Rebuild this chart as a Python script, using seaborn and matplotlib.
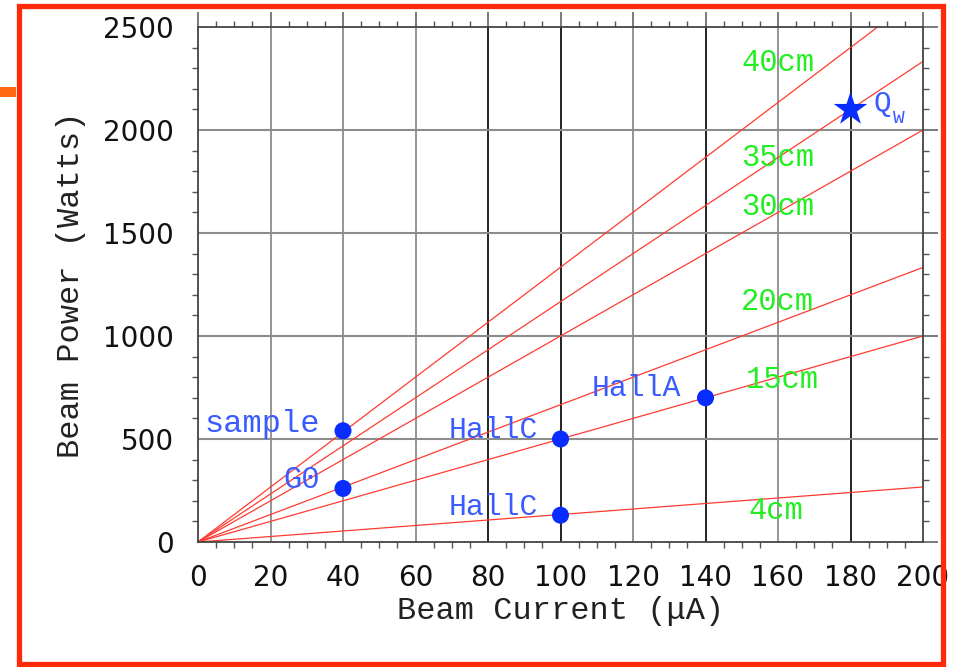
import numpy as np
import pandas as pd
import matplotlib
matplotlib.use("Agg")
import matplotlib.pyplot as plt
import seaborn as sns
from matplotlib.patches import Rectangle
from matplotlib.ticker import MultipleLocator

# ---- data ----
target_lengths = ["40cm", "35cm", "30cm", "20cm", "15cm", "4cm"]
power_at_200uA = [2667, 2333, 2000, 1333, 1000, 267]   # W at 200 uA (lines start at origin)
current_range = [0, 200]

exp_names = ["sample", "G0", "HallC", "HallC", "HallA"]
exp_current = [40, 40, 100, 100, 140]
exp_power = [540, 260, 500, 130, 700]

qw_current = [180]
qw_power = [2100]

x_ticks = [0, 20, 40, 60, 80, 100, 120, 140, 160, 180, 200]
y_ticks = [0, 500, 1000, 1500, 2000, 2500]

# ---- build table ----
rows = []
for name, p in zip(target_lengths, power_at_200uA):
    rows.append({"target": name, "current": current_range[0], "power": 0})
    rows.append({"target": name, "current": current_range[1], "power": p})
lines_df = pd.DataFrame(rows)
pts_df = pd.DataFrame({"name": exp_names, "current": exp_current, "power": exp_power})
qw_df = pd.DataFrame({"current": qw_current, "power": qw_power})

sns.set_style("white")
plt.rcParams["font.family"] = ["DejaVu Sans"]

W, H = 956, 667
fig = plt.figure(figsize=(W / 100, H / 100), dpi=100)
ax = fig.add_axes([198 / W, 1 - 542 / H, (923 - 198) / W, (542 - 27) / H])

# grid lines
grid_cols = {20: "#8c8c8c", 40: "#8c8c8c", 60: "#8c8c8c", 80: "#111111", 100: "#111111",
             120: "#8c8c8c", 140: "#111111", 160: "#8c8c8c", 180: "#111111"}
for xv, c in grid_cols.items():
    ax.axvline(xv, color=c, lw=1.3, zorder=0.5)
for yv in y_ticks[1:-1]:
    ax.axhline(yv, color="#8c8c8c", lw=1.5, zorder=0.5)

palette = {t: "#ff3b30" for t in target_lengths}
sns.lineplot(data=lines_df, x="current", y="power", hue="target", palette=palette,
             lw=0.9, legend=False, ax=ax, zorder=2)
sns.scatterplot(data=pts_df, x="current", y="power", color="#0a2dff", s=150,
                edgecolor="none", ax=ax, zorder=3)
sns.scatterplot(data=qw_df, x="current", y="power", color="#0a2dff", marker="*", s=650,
                edgecolor="none", ax=ax, zorder=3)

ax.set_xlim(0, 200)
ax.set_ylim(0, 2500)
ax.set_xticks(x_ticks)
ax.set_yticks(y_ticks)
ax.xaxis.set_minor_locator(MultipleLocator(5))
ax.yaxis.set_minor_locator(MultipleLocator(100))
ax.tick_params(which="major", direction="out", length=10.5, width=1.1, color="#555555",
               top=True, right=True, labelsize=20, labelcolor="#111111", pad=5)
ax.tick_params(which="minor", direction="out", length=4, width=1.0, color="#555555",
               top=True, right=True, bottom=True, left=True)
ax.tick_params(axis="y", which="major", pad=7)
for s in ax.spines.values():
    s.set_color("#444444")
    s.set_linewidth(1.3)

mono = ["Liberation Mono", "DejaVu Sans Mono"]
ax.set_xlabel("Beam Current (\u03bcA)", family=mono, fontsize=23, color="#222222", labelpad=3)
ax.set_ylabel("Beam Power (Watts)", family=mono, fontsize=23, color="#222222", labelpad=12)

# green labels
green = "#22ee22"
lab_pos = {"40cm": (149.8, 2325), "35cm": (149.8, 1864), "30cm": (149.8, 1626),
           "20cm": (149.8, 1165), "15cm": (151.2, 786), "4cm": (152.0, 150)}
for t in target_lengths:
    x0, y0 = lab_pos[t]
    ax.text(x0, y0, t, family=mono, fontsize=22, color=green, ha="left", va="center", zorder=4)

# blue labels
blue = "#3a5cff"
blue_pos = [(33.7, 573), (33.7, 301), (93.8, 544), (93.8, 170), (133.2, 748)]
blue_size = [23, 22, 21.5, 21.5, 21.5]
for name, (x0, y0), fs in zip(exp_names, blue_pos, blue_size):
    ax.text(x0, y0, name, family=mono, fontsize=fs, color=blue, ha="right", va="center", zorder=4)
ax.text(186.3, 2125, "Q", family=mono, fontsize=21, color=blue, ha="left", va="center", zorder=4)
ax.text(191.8, 2055, "W", family=mono, fontsize=14, color=blue, ha="left", va="center", zorder=4)

# figure decorations: red frame + orange tab
fig.patches.append(Rectangle((18.5 / W, 1 - 664 / H), (942.5 - 18.5) / W, (664 - 5.5) / H,
                             transform=fig.transFigure, fill=False, edgecolor="#ff2a0a",
                             lw=3.8, zorder=10))
fig.patches.append(Rectangle((0, 1 - 97 / H), 16 / W, 10 / H, transform=fig.transFigure,
                             facecolor="#ff6a10", edgecolor="none", zorder=10))

fig.savefig("out.png", dpi=100)
